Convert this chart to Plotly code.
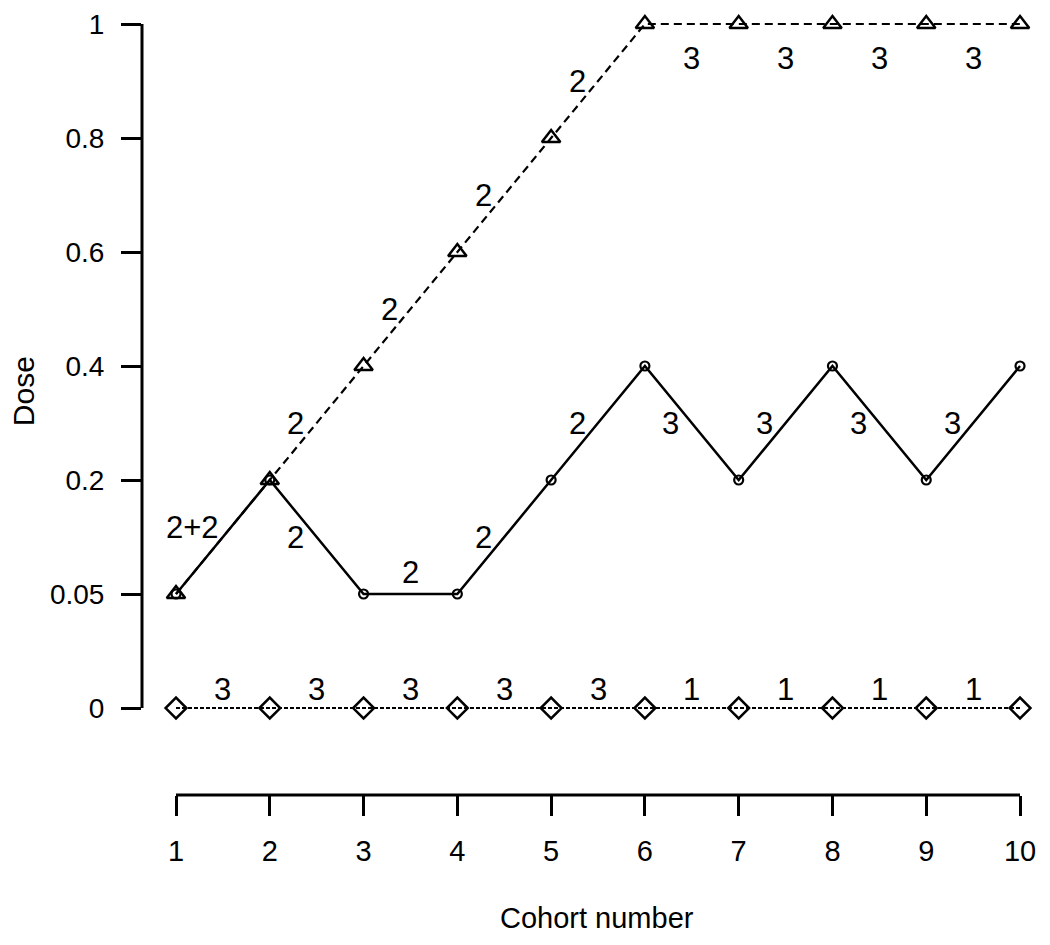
import plotly.graph_objects as go

# dose levels are shown on an ordinal (equally spaced) axis
dose_levels = [0, 0.05, 0.2, 0.4, 0.6, 0.8, 1]
dose_labels = ["0", "0.05", "0.2", "0.4", "0.6", "0.8", "1"]

cohort = [1, 2, 3, 4, 5, 6, 7, 8, 9, 10]

dose_triangle = [0.05, 0.2, 0.4, 0.6, 0.8, 1, 1, 1, 1, 1]
dose_circle = [0.05, 0.2, 0.05, 0.05, 0.2, 0.4, 0.2, 0.4, 0.2, 0.4]
dose_diamond = [0, 0, 0, 0, 0, 0, 0, 0, 0, 0]

# number of patients written along each segment (segment i joins cohort i and i+1)
n_triangle = ["2+2", "2", "2", "2", "2", "3", "3", "3", "3"]
n_circle = [None, "2", "2", "2", "2", "3", "3", "3", "3"]
n_diamond = ["3", "3", "3", "3", "3", "1", "1", "1", "1"]

FONT = "Liberation Sans, Arial, sans-serif"


def to_level(doses):
    return [dose_levels.index(d) for d in doses]


def segment_labels(fig, x, y, texts, flat_shift):
    for i, txt in enumerate(texts):
        if txt is None:
            continue
        xm = (x[i] + x[i + 1]) / 2
        ym = (y[i] + y[i + 1]) / 2
        if y[i] == y[i + 1]:
            xs, ys = 0, flat_shift
        elif "+" in txt:
            xs, ys = -30, 10
        else:
            xs, ys = -21, 0
        fig.add_annotation(
            x=xm, y=ym, text=txt, showarrow=False,
            xshift=xs, yshift=ys,
            font=dict(family=FONT, size=31, color="black"),
        )


fig = go.Figure()

y_tri = to_level(dose_triangle)
y_cir = to_level(dose_circle)
y_dia = to_level(dose_diamond)

fig.add_scatter(
    x=cohort, y=y_dia, mode="lines+markers",
    line=dict(color="black", width=2.2, dash="4px,2px"),
    marker=dict(symbol="diamond-open", size=16, color="black", line=dict(width=2.5)),
    cliponaxis=False,
)
fig.add_scatter(
    x=cohort, y=y_cir, mode="lines+markers",
    line=dict(color="black", width=2.5),
    marker=dict(symbol="circle-open", size=9, color="black", line=dict(width=2.2)),
    cliponaxis=False,
)
fig.add_scatter(
    x=cohort, y=y_tri, mode="lines+markers",
    line=dict(color="black", width=2.2, dash="8px,5px"),
    marker=dict(symbol="triangle-up-open", size=16, color="black", line=dict(width=2.5)),
    cliponaxis=False,
)

segment_labels(fig, cohort, y_dia, n_diamond, 19)
segment_labels(fig, cohort, y_cir, n_circle, 22)
segment_labels(fig, cohort, y_tri, n_triangle, -34)

# R-style axis lines that stop at the first and last tick
fig.add_shape(type="line", xref="x", yref="paper",
              x0=cohort[0], x1=cohort[-1], y0=0, y1=0,
              line=dict(color="black", width=3))
fig.add_shape(type="line", xref="paper", yref="y",
              x0=0, x1=0, y0=0, y1=len(dose_levels) - 1,
              line=dict(color="black", width=3))

fig.add_annotation(text="Cohort number", xref="paper", yref="paper",
                   x=0.507, y=-0.157, showarrow=False, yanchor="middle",
                   font=dict(family=FONT, size=29, color="black"))
fig.add_annotation(text="Dose", xref="paper", yref="paper",
                   x=-0.132, y=0.515, showarrow=False, textangle=-90,
                   xanchor="center", yanchor="middle",
                   font=dict(family=FONT, size=30, color="black"))

# the page body has an 8px margin, so the margins are trimmed to keep
# the plot area at the same place in the window
fig.update_layout(
    width=1050, height=945,
    margin=dict(l=134, r=18, t=2, b=158),
    plot_bgcolor="white", paper_bgcolor="white",
    showlegend=False,
    xaxis=dict(
        range=[0.6375, 10.213], tickvals=cohort,
        ticks="outside", ticklen=20, tickwidth=2.5, tickcolor="black",
        showgrid=False, zeroline=False, showline=False,
        tickfont=dict(family=FONT, size=29, color="black"),
        ticklabelstandoff=10,
    ),
    yaxis=dict(
        range=[-0.763, 6.123], tickvals=list(range(len(dose_levels))),
        ticktext=dose_labels,
        ticks="outside", ticklen=20, tickwidth=2.5, tickcolor="black",
        showgrid=False, zeroline=False, showline=False,
        tickfont=dict(family=FONT, size=28, color="black"),
        ticklabelstandoff=11,
    ),
)

fig.write_html("out.html")
